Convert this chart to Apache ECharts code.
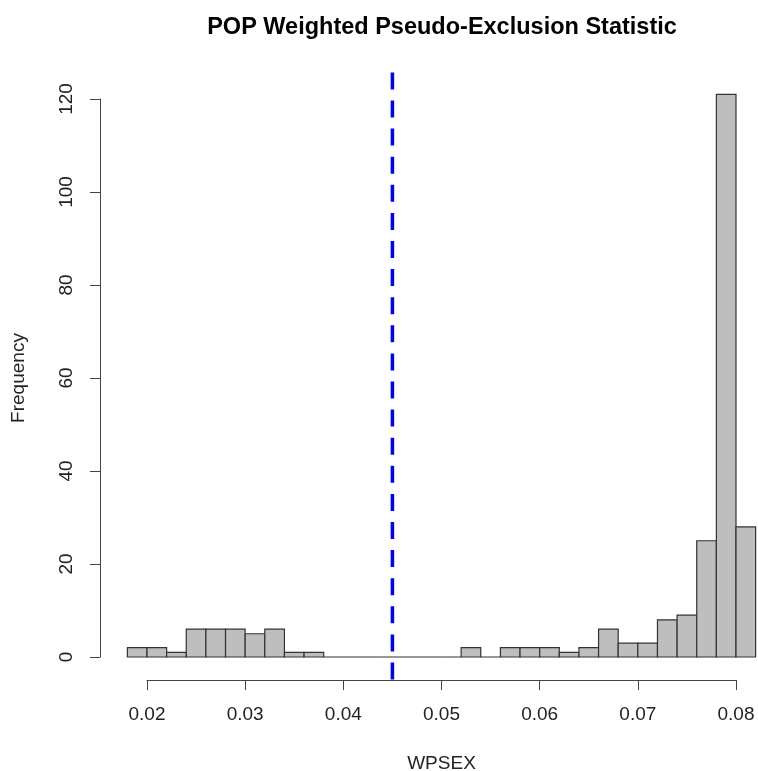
<!DOCTYPE html>
<html lang="en">
<head>
    <meta charset="UTF-8">
    <title>POP Weighted Pseudo-Exclusion Statistic</title>
    <script src="https://cdn.jsdelivr.net/npm/echarts@6/dist/echarts.min.js"></script>
    <style>
        html, body { margin: 0; padding: 0; background: #fff; }
        #main { width: 758px; height: 771px; }
    </style>
</head>
<body>
    <div id="main"></div>
    <script>
        // histogram bins: 0.018 .. 0.082, width 0.002
        var binStart = 0.018;
        var binWidth = 0.002;
        var counts = [2, 2, 1, 6, 6, 6, 5, 6, 1, 1, 0, 0, 0, 0, 0, 0, 0, 2, 0, 2, 2, 2, 1, 2, 6, 3, 3, 8, 9, 25, 121, 28];
        var cutoff = 0.045;   // dashed blue reference line
        var xTicks = [0.02, 0.03, 0.04, 0.05, 0.06, 0.07, 0.08];
        var yTicks = [0, 20, 40, 60, 80, 100, 120];

        var font = "'Liberation Sans', Arial, sans-serif";
        var chart = echarts.init(document.getElementById('main'), null, { renderer: 'canvas' });

        var binData = counts.map(function (c, i) {
            return [binStart + i * binWidth, binStart + (i + 1) * binWidth, c];
        });

        var option = {
            backgroundColor: '#fff',
            animation: false,
            title: {
                text: 'POP Weighted Pseudo-Exclusion Statistic',
                left: 437,
                textAlign: 'center',
                top: 11,
                textStyle: { fontFamily: font, fontSize: 23.5, fontWeight: 'bold', color: '#000' }
            },
            grid: { left: 147, right: 22, top: 99, bottom: 114, outerBoundsMode: 'none', containLabel: false },
            xAxis: {
                type: 'value',
                min: xTicks[0],
                max: xTicks[xTicks.length - 1],
                interval: 0.01,
                offset: 23,
                name: 'WPSEX',
                nameLocation: 'middle',
                nameGap: 74,
                nameTextStyle: { fontFamily: font, fontSize: 19, color: '#222' },
                axisLine: { show: true, onZero: false, lineStyle: { color: '#444', width: 1 } },
                axisTick: { length: 10, lineStyle: { color: '#444' } },
                axisLabel: { fontFamily: font, fontSize: 19, color: '#222', margin: 25 },
                splitLine: { show: false }
            },
            yAxis: {
                type: 'value',
                min: yTicks[0],
                max: yTicks[yTicks.length - 1],
                interval: 20,
                offset: 47,
                name: 'Frequency',
                nameLocation: 'middle',
                nameGap: 72,
                nameTextStyle: { fontFamily: font, fontSize: 19, color: '#222' },
                axisLine: { show: true, onZero: false, lineStyle: { color: '#444', width: 1 } },
                axisTick: { show: true, length: 10, lineStyle: { color: '#444' } },
                axisLabel: { fontFamily: font, fontSize: 19, color: '#222', rotate: 90, margin: 24 },
                splitLine: { show: false }
            },
            series: [
                {
                    type: 'custom',
                    clip: false,
                    encode: { x: [0, 1], y: 2 },
                    data: binData,
                    renderItem: function (params, api) {
                        var p0 = api.coord([api.value(0), 0]);
                        var p1 = api.coord([api.value(1), api.value(2)]);
                        return {
                            type: 'rect',
                            shape: { x: p0[0], y: p1[1], width: p1[0] - p0[0], height: p0[1] - p1[1] },
                            style: { fill: '#BEBEBE', stroke: '#333', lineWidth: 1.2 }
                        };
                    }
                },
                {
                    type: 'custom',
                    clip: false,
                    encode: { x: 0 },
                    data: [[cutoff]],
                    renderItem: function (params, api) {
                        // R extends the plot region 4% beyond the data range
                        var top = Math.max.apply(null, counts) * 1.04;
                        var bottom = -Math.max.apply(null, counts) * 0.04;
                        var a = api.coord([api.value(0), bottom]);
                        var b = api.coord([api.value(0), top]);
                        return {
                            type: 'line',
                            shape: { x1: a[0], y1: a[1], x2: b[0], y2: b[1] },
                            style: { stroke: '#0000FF', lineWidth: 3.5, lineDash: [17, 11.1] }
                        };
                    }
                }
            ]
        };
        chart.setOption(option);
    </script>
</body>
</html>
